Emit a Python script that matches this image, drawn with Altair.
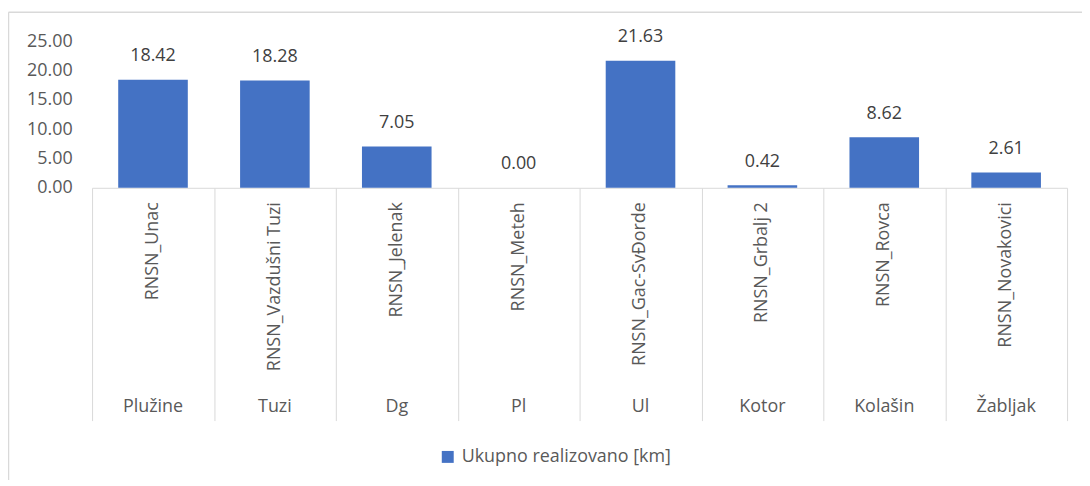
import altair as alt
import pandas as pd

# ---- data ----
municipalities = ["Plužine", "Tuzi", "Dg", "Pl", "Ul", "Kotor", "Kolašin", "Žabljak"]
stations = ["RNSN_Unac", "RNSN_Vazdušni Tuzi", "RNSN_Jelenak", "RNSN_Meteh",
            "RNSN_Gac-SvĐorde", "RNSN_Grbalj 2", "RNSN_Rovca", "RNSN_Novakovici"]
values = [18.42, 18.28, 7.05, 0.00, 21.63, 0.42, 8.62, 2.61]
series_name = "Ukupno realizovano [km]"
y_ticks = [0, 5, 10, 15, 20, 25]

df = pd.DataFrame({
    "municipality": municipalities,
    "station": stations,
    "value": values,
    "series": [series_name] * len(values),
})

W = 980
H = 147.5
FONT = "Open Sans"
GRAY = "#595959"
LINE = "#d9d9d9"

base = alt.Chart(df)

x_enc = alt.X(
    "station:N", sort=stations,
    scale=alt.Scale(paddingInner=0, paddingOuter=0),
    axis=alt.Axis(title=None, labels=False, tickBand="extent", tickSize=234,
                  tickColor=LINE, tickWidth=1, domainColor=LINE, domainWidth=1,
                  grid=False),
)

y_enc = alt.Y("value:Q", scale=alt.Scale(domain=[0, 25], nice=False, zero=True),
              axis=alt.Axis(title=None, values=y_ticks, tickCount=6, format=".2f",
                            domain=False, ticks=False, grid=False, labelFontSize=18,
                            labelFont=FONT, labelColor=GRAY, labelPadding=20,
                            labelOverlap=False, labelFlush=False))

bars = base.mark_bar(width={"band": 0.571}).encode(
    x=x_enc,
    y=y_enc,
    color=alt.Color("series:N", scale=alt.Scale(range=["#4472C4"]),
                    legend=alt.Legend(title=None, orient="none", legendX=348.5, legendY=409,
                                      symbolType="square", symbolSize=144,
                                      symbolStrokeWidth=0, labelFontSize=18,
                                      labelFont=FONT, labelColor=GRAY, labelOffset=5,
                                      labelLimit=0, padding=0)),
)

labels = base.mark_text(dy=-23.5, baseline="middle", fontSize=18, font=FONT,
                        color="#404040").encode(
    x=x_enc,
    y=y_enc,
    text=alt.Text("value:Q", format=".2f"),
)

inner = base.mark_text(angle=270, align="right", baseline="middle", fontSize=18,
                       font=FONT, color=GRAY).encode(
    x=x_enc,
    y=alt.value(H + 14.5),
    text="station:N",
)

outer = base.mark_text(align="center", baseline="middle", fontSize=18,
                       font=FONT, color=GRAY).encode(
    x=x_enc,
    y=alt.value(368),
    text="municipality:N",
)

frame_df = pd.DataFrame({"k": [0]})
top_line = alt.Chart(frame_df).mark_rule(color=LINE, strokeWidth=1.5).encode(
    x=alt.value(-84), x2=alt.value(1010), y=alt.value(-29)
)
left_line = alt.Chart(frame_df).mark_rule(color=LINE, strokeWidth=1.5).encode(
    x=alt.value(-84), y=alt.value(-29), y2=alt.value(460)
)

chart = alt.layer(top_line, left_line, bars, labels, inner, outer).properties(
    width=W, height=H,
    autosize=alt.AutoSizeParams(type="none"),
    padding={"left": 84.5, "top": 32, "right": 15, "bottom": 292},
    background="white",
).configure_view(strokeWidth=0)

chart.save("out.html", embed_options={"renderer": "svg", "actions": False})
